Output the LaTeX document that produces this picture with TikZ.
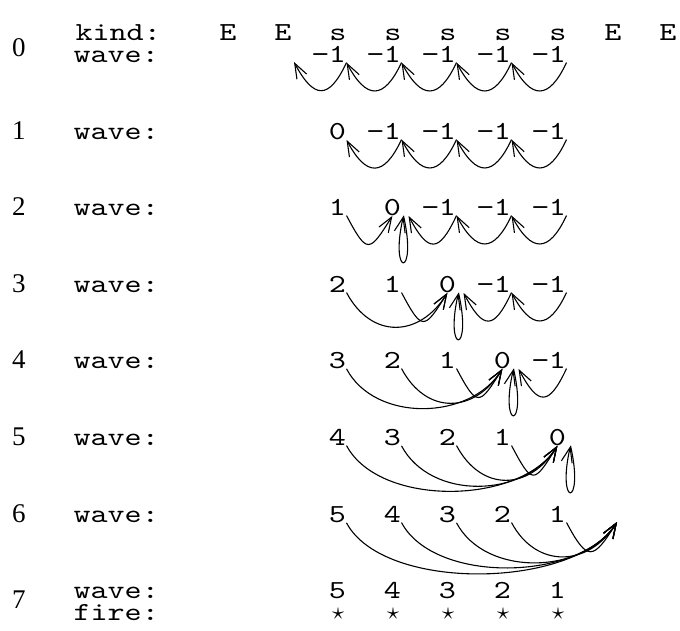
\documentclass[tikz,border=0pt]{standalone}
\usepackage{fontspec}
\usepackage{graphicx}
\usetikzlibrary{arrows.meta}
\newfontfamily\cour{lmmono10-regular.otf}[FakeStretch=1.25]
\newfontfamily\rowfont{Liberation Serif}

\begin{document}
\begin{tikzpicture}[x=1pt,y=-1pt,line width=1.1pt,
  txt/.style={inner sep=0pt,font=\cour\fontsize{26}{22}\selectfont},
  lbl/.style={txt,anchor=base west},
  cell/.style={txt,anchor=base},
  val/.style={txt,anchor=base east},
  num/.style={inner sep=0pt,anchor=base,font=\rowfont\fontsize{27}{27}\selectfont},
  firemark/.style={inner sep=0pt,anchor=center},
  back/.style={->,out=-115,in=-62,distance=42pt},
  fwd/.style={->,out=-62,in=-122,distance=#1},
  self/.style={->,out=-77,in=-103,distance=64pt},
  >={Straight Barb[length=15pt,width=11pt]}]
\useasboundingbox (0,0) rectangle (680,630);
% row labels
\node[num] (n0) at (19,56) {0};
\node[lbl] (kind) at (75,40) {kind:};
\node[lbl] (wave0) at (73,62) {wave:};
\foreach \r/\b in {1/139,2/215,3/292,4/368,5/445,6/522}{
  \node[num] (n\r) at (19,\b) {\r};
  \node[lbl] (wave\r) at (73,\b) {wave:};}
\node[num] (n7) at (19,608) {7};
\node[lbl] (wave7) at (73,598) {wave:};
\node[lbl] (fire) at (73,620) {fire:};
\foreach \t [count=\j from 0] in {E,E,s,s,s,s,s,E,E}
  \node[cell] (k\j) at (228+55*\j,40) {\t};
% wave values
\foreach \v [count=\j from 0] in {−1,−1,−1,−1,−1} \node[val] (v0\j) at (346.5+55*\j,62) {\v};
\foreach \v [count=\j from 0] in {0,−1,−1,−1,−1} \node[val] (v1\j) at (346.5+55*\j,139) {\v};
\foreach \v [count=\j from 0] in {1,0,−1,−1,−1} \node[val] (v2\j) at (346.5+55*\j,215) {\v};
\foreach \v [count=\j from 0] in {2,1,0,−1,−1} \node[val] (v3\j) at (346.5+55*\j,292) {\v};
\foreach \v [count=\j from 0] in {3,2,1,0,−1} \node[val] (v4\j) at (346.5+55*\j,368) {\v};
\foreach \v [count=\j from 0] in {4,3,2,1,0} \node[val] (v5\j) at (346.5+55*\j,445) {\v};
\foreach \v [count=\j from 0] in {5,4,3,2,1} \node[val] (v6\j) at (346.5+55*\j,522) {\v};
\foreach \v [count=\j from 0] in {5,4,3,2,1}{
  \node[val] (v7\j) at (346.5+55*\j,598) {\v};
  \node[firemark] (f\j) at (338+55*\j,614) {\scalebox{2.4}{$\star$}};}
\coordinate (e0) at (294,62);
\coordinate (t6) at (617,522);
% row 0 and 1
\draw[back] (v00.south east) to (e0);
\foreach \j/\i in {1/0,2/1,3/2,4/3}{
  \draw[back] (v0\j.south east) to (v0\i.south east);
  \draw[back] (v1\j.south east) to (v1\i.south east);}
% row 2
\draw[fwd=44pt] (v20.south east) to (v21.south);
\draw[self] ([xshift=2pt]v21.south east) to ([xshift=2pt]v21.south east);
\draw[back] (v22.south east) to ([xshift=7pt]v21.south east);
\draw[back] (v23.south east) to (v22.south east);
\draw[back] (v24.south east) to (v23.south east);
% row 3
\draw[fwd=53pt] (v30.south east) to (v32.south);
\draw[fwd=44pt] (v31.south east) to (v32.south);
\draw[self] ([xshift=2pt]v32.south east) to ([xshift=2pt]v32.south east);
\draw[back] (v33.south east) to ([xshift=7pt]v32.south east);
\draw[back] (v34.south east) to (v33.south east);
% row 4
\draw[fwd=61pt] (v40.south east) to (v43.south);
\draw[fwd=53pt] (v41.south east) to (v43.south);
\draw[fwd=44pt] (v42.south east) to (v43.south);
\draw[self] ([xshift=2pt]v43.south east) to ([xshift=2pt]v43.south east);
\draw[back] (v44.south east) to ([xshift=7pt]v43.south east);
% row 5
\draw[fwd=70pt] (v50.south east) to (v54.south);
\draw[fwd=62pt] (v51.south east) to (v54.south);
\draw[fwd=53pt] (v52.south east) to (v54.south);
\draw[fwd=45pt] (v53.south east) to (v54.south);
\draw[self] ([xshift=4pt]v54.south east) to ([xshift=4pt]v54.south east);
% row 6
\draw[fwd=79pt] (v60.south east) to (t6);
\draw[fwd=70pt] (v61.south east) to (t6);
\draw[fwd=62pt] (v62.south east) to (t6);
\draw[fwd=53pt] (v63.south east) to (t6);
\draw[fwd=45pt] (v64.south east) to (t6);
\end{tikzpicture}
\end{document}
